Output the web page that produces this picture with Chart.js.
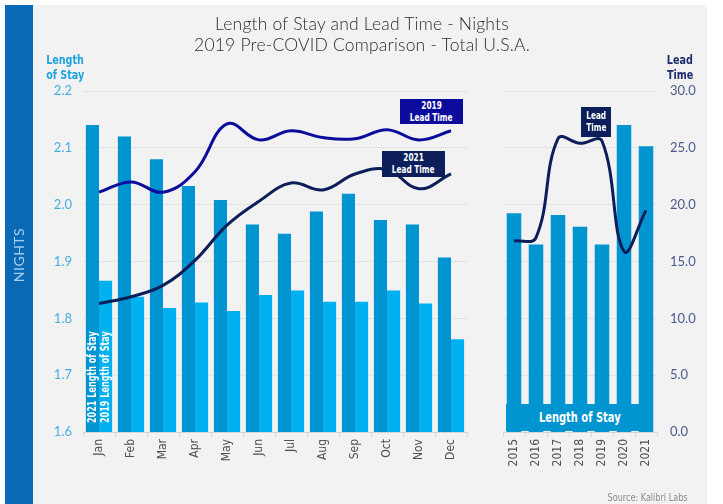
<!DOCTYPE html>
<html>
<head>
<meta charset="utf-8">
<script src="https://cdn.jsdelivr.net/npm/chart.js@4/dist/chart.umd.min.js"></script>
<style>
  html, body { margin: 0; padding: 0; background: #fff; }
  #page { position: relative; width: 723px; height: 504px; overflow: hidden; }
  #panel { position: absolute; left: 5px; top: 5px; width: 702px; height: 499px; background: #f2f2f2; }
  #strip { position: absolute; left: 5px; top: 5px; width: 28px; height: 499px; background: #0a69b4; }
  .cv { position: absolute; left: 0; top: 0; }
  .txt { position: absolute; white-space: nowrap; }
  .narrow { font-family: "Liberation Sans Narrow", "DejaVu Sans Condensed", sans-serif; font-weight: bold; }
  .box { position: absolute; color: #fff; text-align: center; font-size: 10px; line-height: 12px; box-sizing: border-box; }
  .box span, .sq { display: inline-block; transform: scaleX(0.82); }
  .vert { position: absolute; white-space: nowrap; transform-origin: 0 100%; transform: rotate(-90deg) scaleX(0.78);
          font-size: 11.5px; line-height: 12px; color: #fff; }
</style>
</head>
<body>
<div id="page">
  <div id="panel"></div>
  <div id="strip"></div>
  <div class="cv" style="width:723px;height:504px"><canvas id="monthChart"></canvas></div>
  <div class="cv" style="width:723px;height:504px"><canvas id="yearChart"></canvas></div>

  <div class="txt" id="title" style="left:112px;top:13px;width:500px;text-align:center;font-family:Lato,sans-serif;font-weight:300;font-size:17.5px;line-height:21px;color:#2b2b2b;letter-spacing:0.2px">
    Length of Stay and Lead Time - Nights<br>2019 Pre-COVID Comparison - Total U.S.A.
  </div>
  <div class="txt" style="left:-11px;top:246px;width:60px;text-align:center;transform:rotate(-90deg);font-family:Lato,sans-serif;font-size:14px;line-height:18px;color:#a9cff0;letter-spacing:0.5px">NIGHTS</div>

  <div class="txt narrow" style="left:40px;top:52px;width:50px;font-size:13px;line-height:15px;color:#1ca3e0;text-align:center"><span class="sq">Length</span><br><span class="sq">of Stay</span></div>
  <div class="txt narrow" style="left:655px;top:52px;width:50px;font-size:13px;line-height:15px;color:#1b2b6b;text-align:center"><span class="sq">Lead</span><br><span class="sq">Time</span></div>

  <div class="box narrow" style="left:400px;top:99px;width:63px;height:25px;background:#0b0c9c;padding-top:1px"><span>2019</span><br><span>Lead Time</span></div>
  <div class="box narrow" style="left:382px;top:151px;width:63px;height:26px;background:#0c1f5b;padding-top:1px"><span>2021</span><br><span>Lead Time</span></div>
  <div class="box narrow" style="left:581px;top:107px;width:30px;height:30px;background:#0c1f5b;padding-top:3px"><span>Lead</span><br><span>Time</span></div>
  <div class="box narrow" style="left:506px;top:404px;width:147px;height:27px;background:#0094d0;font-size:14.5px;line-height:27px"><span style="transform:scaleX(0.76)">Length of Stay</span></div>

  <div class="vert narrow" style="left:98px;top:411px">2021 Length of Stay</div>
  <div class="vert narrow" style="left:111px;top:411px">2019 Length of Stay</div>

  <div class="txt narrow" style="left:560px;top:491px;width:128px;text-align:right;font-size:11px;line-height:14px;color:#8a8a8a;font-weight:normal"><span class="sq" style="transform-origin:100% 50%">Source: Kalibri Labs</span></div>
</div>

<script>
'use strict';

// category labels
var months = ['Jan', 'Feb', 'Mar', 'Apr', 'May', 'Jun', 'Jul', 'Aug', 'Sep', 'Oct', 'Nov', 'Dec'];
var years = ['2015', '2016', '2017', '2018', '2019', '2020', '2021'];

// length of stay, nights (left axis)
var los2021 = [2.14, 2.12, 2.08, 2.033, 2.008, 1.965, 1.949, 1.988, 2.019, 1.973, 1.965, 1.907];
var los2019 = [1.866, 1.838, 1.818, 1.828, 1.813, 1.841, 1.849, 1.829, 1.829, 1.849, 1.826, 1.763];
var losByYear = [1.985, 1.93, 1.982, 1.961, 1.93, 2.14, 2.103];

// lead time, nights (right axis)
var lead2019 = [21.1, 22.0, 21.1, 22.9, 27.1, 25.7, 26.5, 25.9, 25.8, 26.6, 25.7, 26.5];
var lead2021 = [11.3, 11.9, 12.9, 15.1, 18.2, 20.3, 21.9, 21.3, 22.7, 23.1, 21.4, 22.7];
var leadByYear = [16.8, 17.1, 25.8, 25.4, 25.6, 15.9, 19.5];

// axis ranges
var losMin = 1.6, losMax = 2.2, losStep = 0.1;
var leadMin = 0, leadMax = 30, leadStep = 5;

var COLORS = {
  los2021: '#0094d0',
  los2019: '#00b0ef',
  lead2019: '#0b0c9c',
  lead2021: '#0c1f5b',
  grid: '#e2e2e2',
  axis: '#d6d6d6'
};

var narrowFont = '"Liberation Sans Narrow", "DejaVu Sans Condensed", sans-serif';
var tickFont = 'Lato, sans-serif';

function fixWidth(w) {
  return function (scale) { scale.width = w; };
}
function fixHeight(h) {
  return function (scale) { scale.height = h; };
}

function xAxis() {
  return {
    offset: true,
    afterFit: fixHeight(72),
    border: { display: true, color: COLORS.axis },
    grid: { offset: true, drawOnChartArea: false, drawTicks: true, tickLength: 5, color: COLORS.axis },
    ticks: {
      autoSkip: false, maxRotation: 90, minRotation: 90, padding: 2,
      color: '#505050', font: { family: narrowFont, size: 12 }
    }
  };
}

function lineSet(label, data, color) {
  return {
    type: 'line', label: label, data: data, yAxisID: 'y1', order: 0,
    borderColor: color, borderWidth: 3, pointRadius: 0, tension: 0.4, fill: false
  };
}

function buildMonthChart() {
  var el = document.getElementById('monthChart');
  return new Chart(el, {
    type: 'bar',
    data: {
      labels: months,
      datasets: [
        { label: '2021 Length of Stay', data: los2021, backgroundColor: COLORS.los2021, yAxisID: 'y', order: 1,
          categoryPercentage: 0.82, barPercentage: 1.0 },
        { label: '2019 Length of Stay', data: los2019, backgroundColor: COLORS.los2019, yAxisID: 'y', order: 1,
          categoryPercentage: 0.82, barPercentage: 1.0 },
        lineSet('2019 Lead Time', lead2019, COLORS.lead2019),
        lineSet('2021 Lead Time', lead2021, COLORS.lead2021)
      ]
    },
    options: {
      responsive: true, maintainAspectRatio: false, animation: false,
      layout: { padding: { left: 33, right: 256, top: 91, bottom: 0 } },
      plugins: { legend: { display: false }, tooltip: { enabled: false } },
      scales: {
        x: xAxis(),
        y: {
          min: losMin, max: losMax,
          afterFit: fixWidth(50),
          border: { display: false },
          grid: { color: COLORS.grid, drawTicks: false },
          ticks: {
            stepSize: losStep, padding: 11, color: '#45afe2',
            font: { family: tickFont, size: 13 },
            callback: function (v) { return Number(v).toFixed(1); }
          }
        },
        y1: { display: false, min: leadMin, max: leadMax }
      }
    }
  });
}

function buildYearChart() {
  var el = document.getElementById('yearChart');
  return new Chart(el, {
    type: 'bar',
    data: {
      labels: years,
      datasets: [
        { label: 'Length of Stay', data: losByYear, backgroundColor: COLORS.los2021, yAxisID: 'y', order: 1,
          categoryPercentage: 0.66, barPercentage: 1.0 },
        lineSet('Lead Time', leadByYear, COLORS.lead2021)
      ]
    },
    options: {
      responsive: true, maintainAspectRatio: false, animation: false,
      layout: { padding: { left: 503, right: 16, top: 91, bottom: 0 } },
      plugins: { legend: { display: false }, tooltip: { enabled: false } },
      scales: {
        x: xAxis(),
        y: { display: false, min: losMin, max: losMax },
        y1: {
          position: 'right', min: leadMin, max: leadMax,
          afterFit: fixWidth(50),
          border: { display: false },
          grid: { color: COLORS.grid, drawTicks: false },
          ticks: {
            stepSize: leadStep, padding: 13, color: '#4b5a8c',
            font: { family: tickFont, size: 13 },
            callback: function (v) { return Number(v).toFixed(1); }
          }
        }
      }
    }
  });
}

buildMonthChart();
buildYearChart();
</script>
</body>
</html>
